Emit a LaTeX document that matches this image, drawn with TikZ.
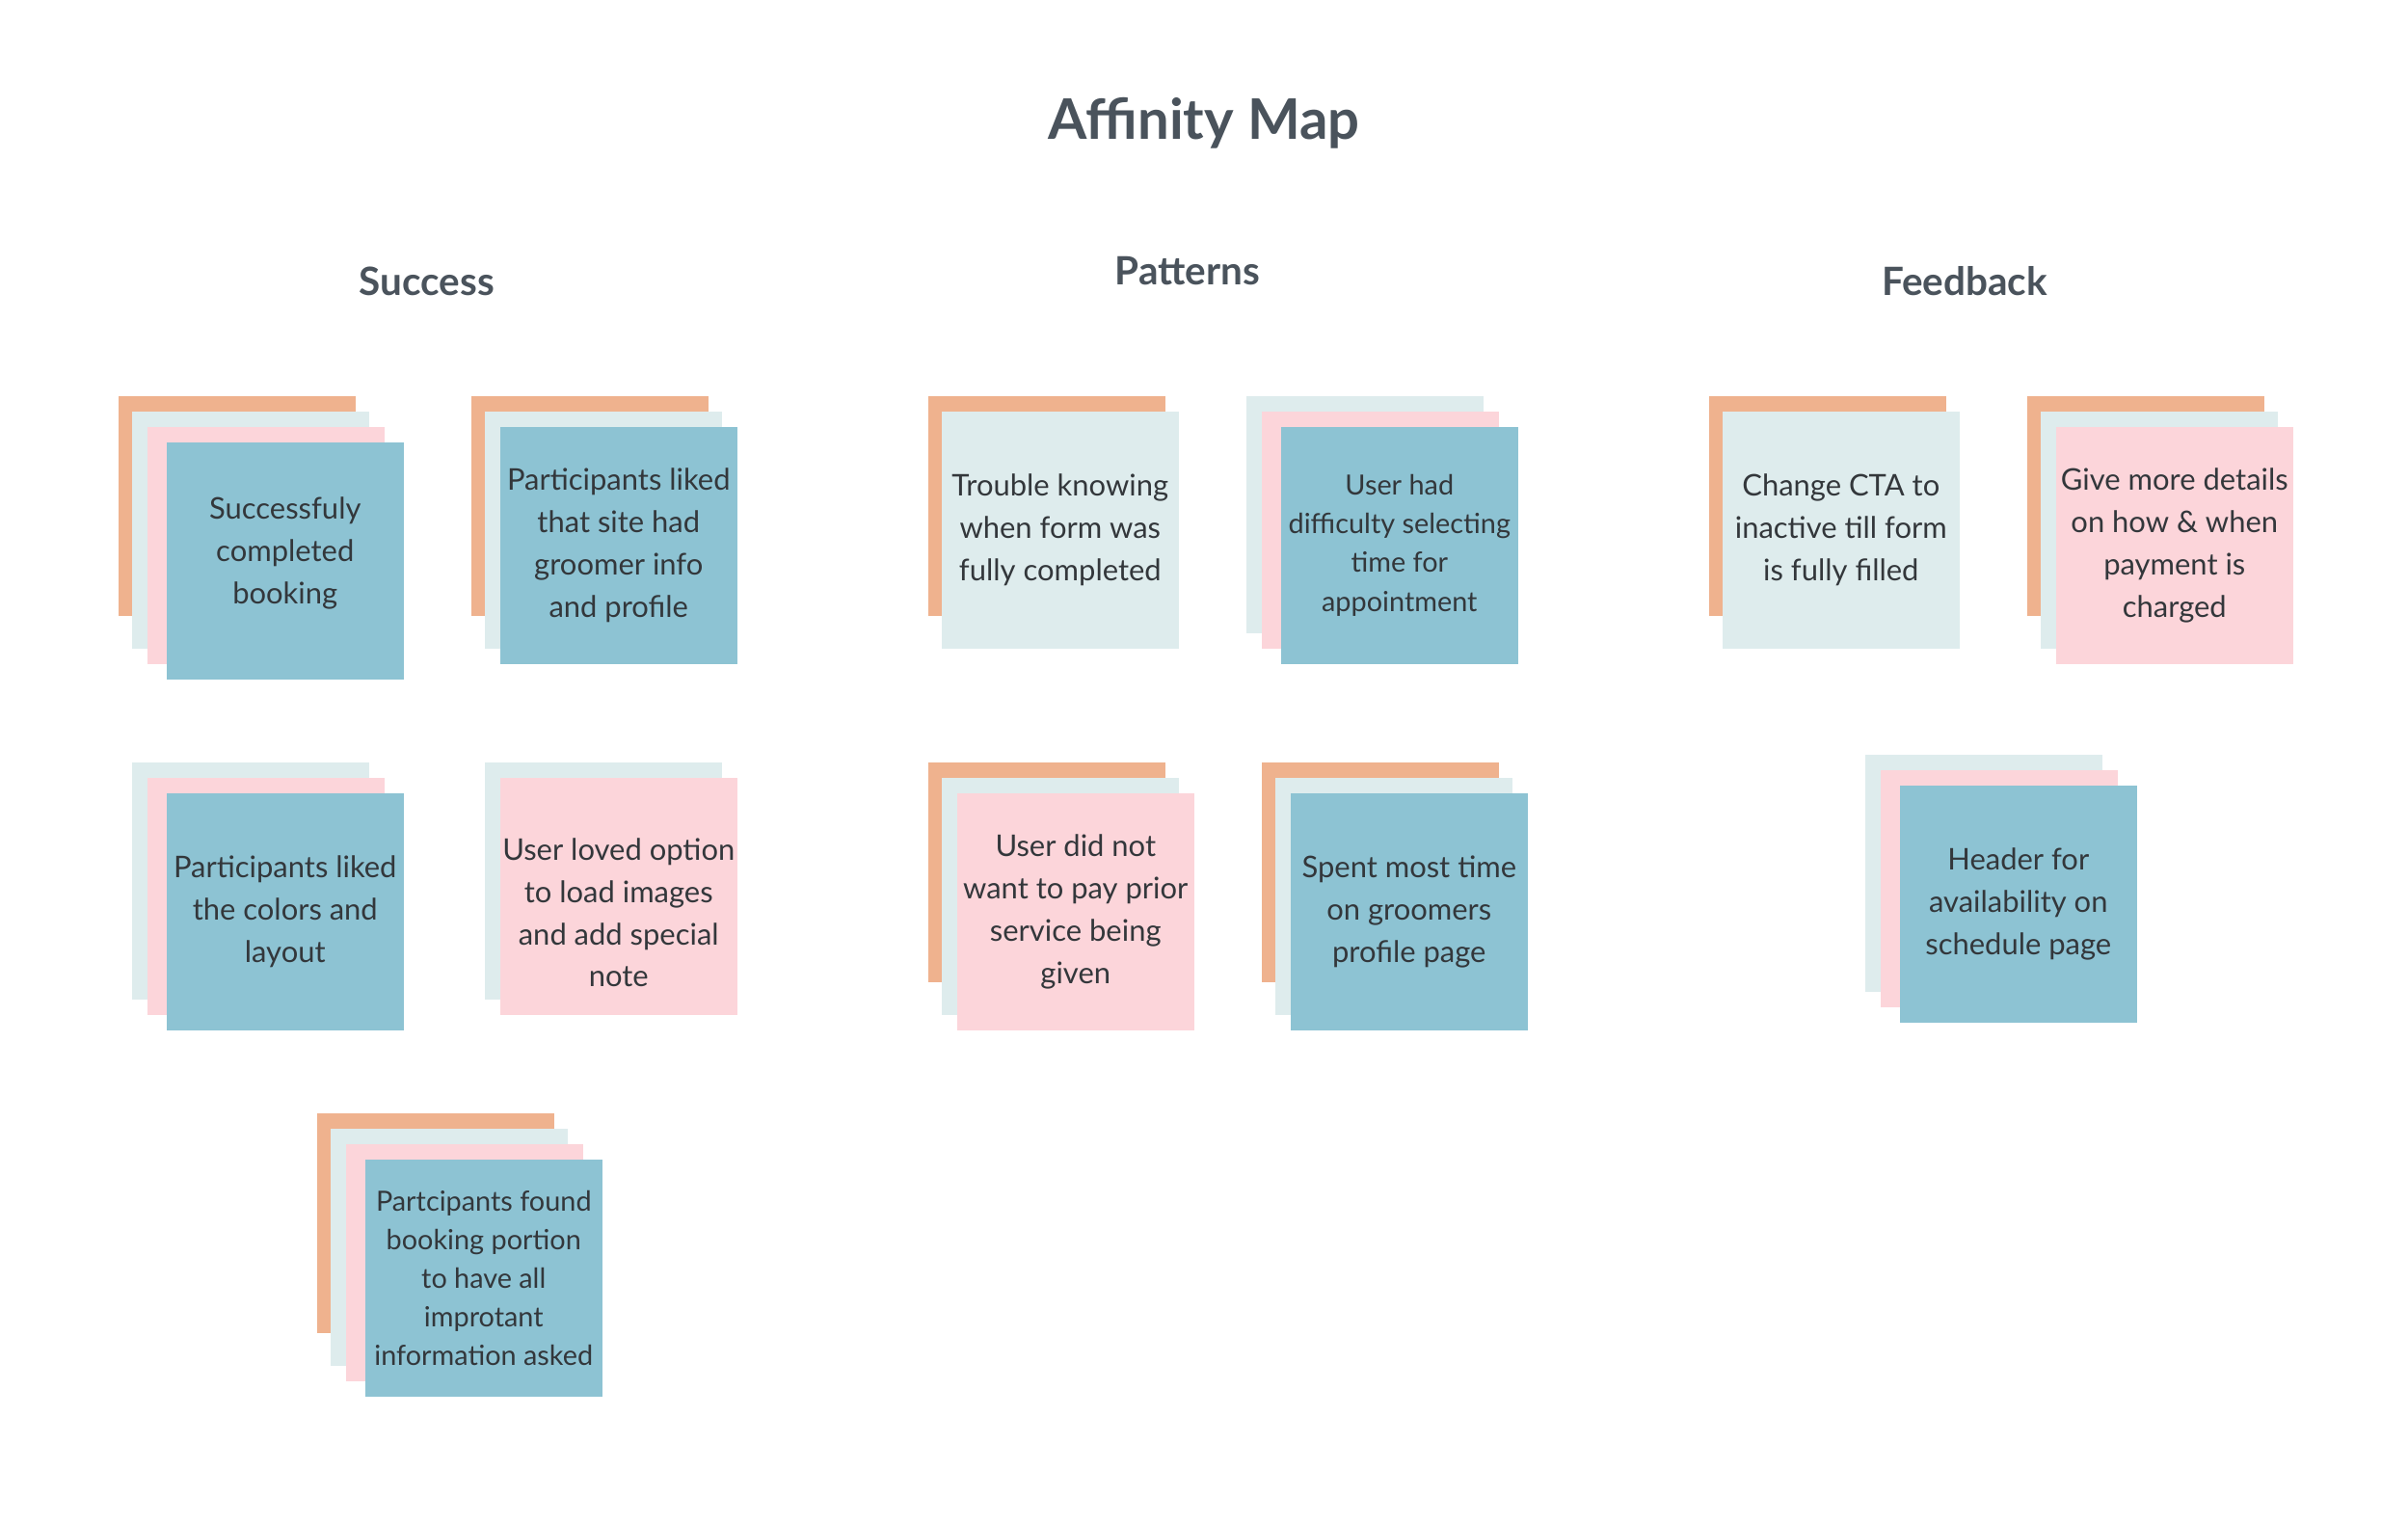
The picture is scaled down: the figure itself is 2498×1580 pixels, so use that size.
\documentclass[tikz,border=0pt]{standalone}
\usepackage{fontspec}
\setmainfont{Lato}
\usepackage{xcolor}

\definecolor{peach}{HTML}{EFB28E}
\definecolor{mist}{HTML}{DEECED}
\definecolor{blush}{HTML}{FCD5DA}
\definecolor{seablue}{HTML}{8DC3D3}
\definecolor{ink}{HTML}{33373B}
\definecolor{slate}{HTML}{4A535C}

\tikzset{
  notetext/.style={text=ink, align=center, font=\fontsize{8.8}{12.5}\selectfont},
  note/.style={notetext, anchor=north west, inner sep=0pt, minimum width=2.46cm,
    minimum height=2.46cm},
  peachnote/.style={note, fill=peach, minimum height=2.28cm},
  mistnote/.style={note, fill=mist},
  blushnote/.style={note, fill=blush},
  bluenote/.style={note, fill=seablue},
  smalltext/.style={font=\fontsize{8.2}{11.4}\selectfont},
  heading/.style={anchor=base, text=slate, font=\bfseries\fontsize{11.5}{14}\selectfont},
}

\begin{document}
\begin{tikzpicture}[x=0.01cm, y=-0.01cm]

% Page
\fill[white] (0,0) rectangle (2498,1580);
\useasboundingbox (0,0) rectangle (2498,1580);

% Title and headings
\node[heading, font=\bfseries\fontsize{16.5}{20}\selectfont] (T) at (1249,145) {Affinity Map};
\node[heading] (S) at (443,307) {Success};
\node[heading] (P) at (1232,296) {Patterns};
\node[heading] (F) at (2038,307) {Feedback};

% Success
\node[peachnote] (S1a) at (122,410) {};
\node[mistnote] (S1b) at (136,426) {};
\node[blushnote] (S1c) at (152,442) {};
\node[bluenote] (S1) at (172,458) {};
\node[notetext] (S1t) at ([yshift=0.08cm]S1.center) {Successfuly\\completed\\booking};

\node[peachnote] (S2a) at (488,410) {};
\node[mistnote] (S2b) at (502,426) {};
\node[bluenote] (S2) at (518,442) {Participants liked\\that site had\\groomer info\\and profile};

\node[mistnote] (S3b) at (136,790) {};
\node[blushnote] (S3c) at (152,806) {};
\node[bluenote] (S3) at (172,822) {Participants liked\\the colors and\\layout};

\node[mistnote] (S4b) at (502,790) {};
\node[blushnote] (S4) at (518,806) {};
\node[notetext] (S4t) at ([yshift=-0.17cm]S4.center) {User loved option\\to load images\\and add special\\note};

\node[peachnote] (S5a) at (328,1154) {};
\node[mistnote] (S5b) at (342,1170) {};
\node[blushnote] (S5c) at (358,1186) {};
\node[bluenote, smalltext] (S5) at (378,1202) {Partcipants found\\booking portion\\to have all\\improtant\\information asked};

% Patterns
\node[peachnote] (P1a) at (962,410) {};
\node[mistnote] (P1) at (976,426) {Trouble knowing\\when form was\\fully completed};

\node[mistnote] (P2b) at (1292,410) {};
\node[blushnote] (P2c) at (1308,426) {};
\node[bluenote, smalltext] (P2) at (1328,442) {User had\\difficulty selecting\\time for\\appointment};

\node[peachnote] (P3a) at (962,790) {};
\node[mistnote] (P3b) at (976,806) {};
\node[blushnote] (P3) at (992,822) {User did not\\want to pay prior\\service being\\given};

\node[peachnote] (P4a) at (1308,790) {};
\node[mistnote] (P4b) at (1322,806) {};
\node[bluenote] (P4) at (1338,822) {Spent most time\\on groomers\\profile page};

% Feedback
\node[peachnote] (F1a) at (1772,410) {};
\node[mistnote] (F1) at (1786,426) {Change CTA to\\inactive till form\\is fully filled};

\node[peachnote] (F2a) at (2102,410) {};
\node[mistnote] (F2b) at (2116,426) {};
\node[blushnote] (F2) at (2132,442) {Give more details\\on how \& when\\payment is\\charged};

\node[mistnote] (F3b) at (1934,782) {};
\node[blushnote] (F3c) at (1950,798) {};
\node[bluenote] (F3) at (1970,814) {Header for\\availability on\\schedule page};

\end{tikzpicture}
\end{document}
